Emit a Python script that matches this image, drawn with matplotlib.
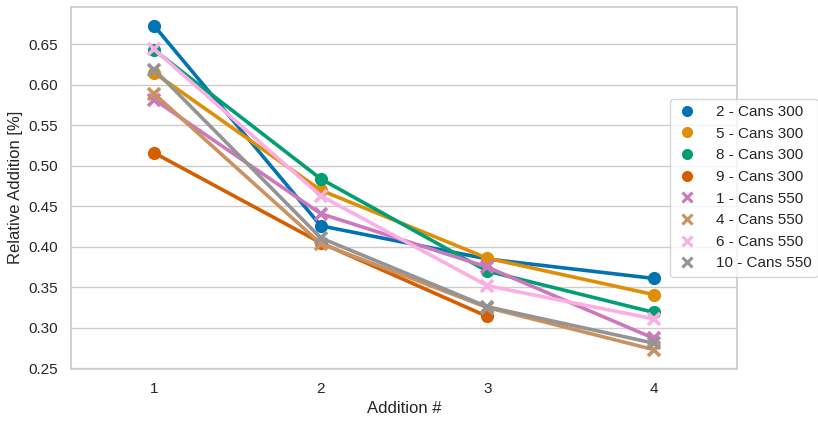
import matplotlib
matplotlib.use("Agg")
import matplotlib.pyplot as plt
from matplotlib.lines import Line2D
import seaborn as sns
import numpy as np

sns.set_theme(style="whitegrid", context="notebook")
plt.rcParams['font.family'] = ['Liberation Sans', 'DejaVu Sans']

additions = ["1", "2", "3", "4"]
labels = ["2 - Cans 300", "5 - Cans 300", "8 - Cans 300", "9 - Cans 300",
          "1 - Cans 550", "4 - Cans 550", "6 - Cans 550", "10 - Cans 550"]
s2 = [0.673, 0.426, 0.385, 0.361]
s5 = [0.615, 0.470, 0.386, 0.341]
s8 = [0.643, 0.484, 0.370, 0.319]
s9 = [0.516, 0.405, 0.314, np.nan]
s1 = [0.582, 0.441, 0.375, 0.287]
s4 = [0.589, 0.404, 0.325, 0.273]
s6 = [0.644, 0.463, 0.352, 0.311]
s10 = [0.619, 0.411, 0.326, 0.281]
series = [s2, s5, s8, s9, s1, s4, s6, s10]
markers = ["o", "o", "o", "o", "x", "x", "x", "x"]
colors = ["#0173b2", "#de8f05", "#029e73", "#d55e00",
          "#cc78bc", "#ca9161", "#fbafe4", "#949494"]

fig = plt.figure(figsize=(8.18, 4.21), dpi=100)
ax = fig.add_axes([71/818, 1 - 368.5/421, 666/818, 361.5/421])

x = np.arange(len(additions))
handles = []
for i, (vals, lab, m, c) in enumerate(zip(series, labels, markers, colors)):
    v = np.array(vals, dtype=float)
    ax.plot(x, v, color=c, lw=2.6, marker=m, markersize=9.5 if m == "o" else 8.5,
            markeredgewidth=0 if m == "o" else 2.6, zorder=2 + i * 0.01)
    handles.append(Line2D([], [], linestyle="none", marker=m, color=c,
                          markersize=8 if m == "o" else 7.5,
                          markeredgewidth=0 if m == "o" else 2.2, label=lab))

ax.set_xticks(x)
ax.set_xticklabels(additions)
ax.set_xlim(-0.5, 3.5)
ax.set_ylim(0.2497, 0.6963)
ax.set_yticks(np.arange(0.25, 0.66, 0.05))
ax.yaxis.set_major_formatter(matplotlib.ticker.FormatStrFormatter('%.2f'))
ax.xaxis.grid(False)
ax.set_xlabel("Addition #")
ax.set_ylabel("Relative Addition [%]")

ax.legend(handles=handles, loc="center left", bbox_to_anchor=(0.9, 0.5),
          borderaxespad=0, fontsize=11, handlelength=1.4, handletextpad=1.2)

fig.savefig("out.png", dpi=100)
